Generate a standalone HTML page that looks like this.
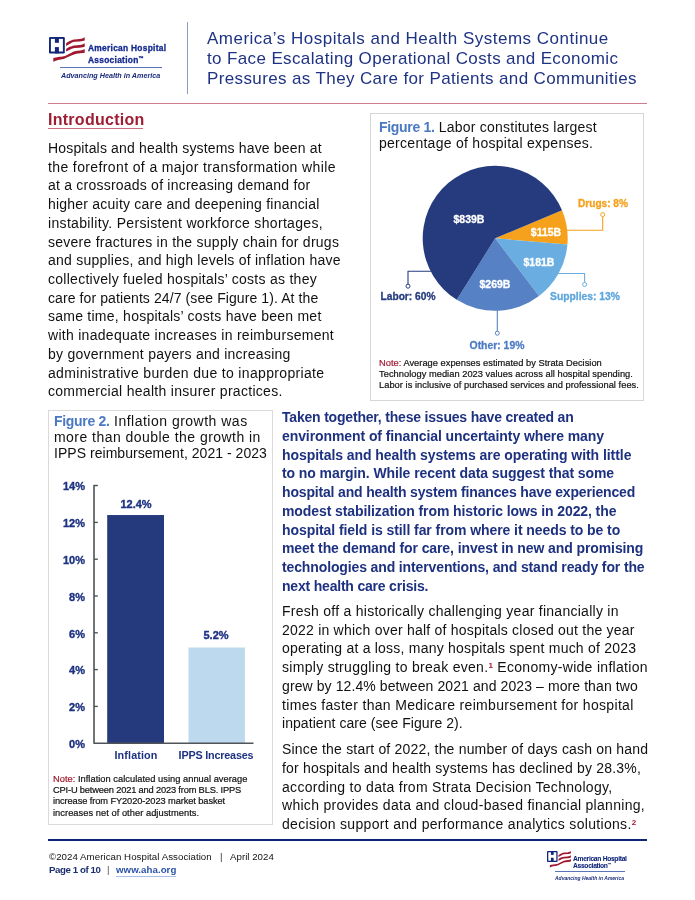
<!DOCTYPE html>
<html><head><meta charset="utf-8"><style>
html,body{margin:0;padding:0;background:#fff;}
body{width:695px;height:900px;position:relative;overflow:hidden;font-family:"Liberation Sans",Arial,sans-serif;}
.t{position:absolute;white-space:nowrap;will-change:transform;}
</style></head><body>
<svg style="position:absolute;left:49px;top:37px;overflow:visible" width="120" height="45" viewBox="0 0 120 45">
<rect x="0" y="0" width="15.8" height="16.4" rx="1.2" fill="#12267a"/>
<rect x="1.9" y="1.9" width="12" height="12.6" fill="#fff"/>
<rect x="5.9" y="0" width="4" height="5.8" fill="#12267a"/>
<rect x="5.9" y="10.1" width="4" height="6.3" fill="#12267a"/>
<path d="M17.1,6.2 C19,4.8 20.5,3.9 21.8,3.5 C23.5,2.8 24.5,2.5 25.6,2.4 L30.5,2.1 C32,1.9 33,1.6 33.8,1.3 L35.7,0.2 L35.7,3.5 L33.8,4 C32.5,4.3 31.5,4.5 30.5,4.6 L25.6,4.8 C24,5 23,5.5 21.8,6.2 L17.1,8.9 Z" fill="#a0182f"/>
<path d="M17.1,11.9 C19,10.6 20.5,9.9 21.8,9.5 C23.5,8.8 24.5,8.5 25.6,8.4 L30.5,8.1 C32,7.9 33,7.6 33.8,7.3 L35.7,6.2 L35.7,9.8 L33.8,10.3 C32.5,10.6 31.5,10.7 30.5,10.8 L25.6,11.1 C24,11.3 23,11.7 21.8,12.2 L17.1,14.4 Z" fill="#a0182f"/>
<path d="M4.3,21 L9.2,20.1 C11.5,19.8 13.2,19.6 14.7,19.3 C16.5,18.8 17.8,18 19,17.4 L22.9,15.5 C24.5,14.7 25.5,14.3 26.7,14.1 L31.1,13.6 C32.3,13.4 33,13.3 33.8,13 L35.7,12.1 L35.7,15.8 L33.8,16 L31.1,16.3 C29,16.5 27.8,16.6 26.7,16.9 C25,17.4 24,17.7 22.9,18.2 L19,20.1 C17.5,20.9 16,21.6 14.7,22.1 C12.5,22.6 11,22.7 9.2,22.9 C7.5,23.3 6,24 4.3,24.8 Z" fill="#a0182f"/>
</svg><div class="t " style="left:87.6px;top:43.84px;font-size:8.4px;line-height:9.5px;font-weight:bold;color:#142a8f;letter-spacing:0.28px;-webkit-text-stroke:0.3px #142a8f">American Hospital<br>Association<span style="font-size:5px;vertical-align:2.5px">™</span></div>
<div style="position:absolute;left:60px;top:67px;width:102px;height:1px;background:#5a74b8"></div>
<div class="t" style="left:60.5px;top:71.3px;font-size:7.2px;line-height:9px;font-style:italic;font-weight:bold;color:#1a2c7c;letter-spacing:0px">Advancing Health in America</div>
<div style="position:absolute;left:187px;top:22px;width:1.2px;height:72px;background:#8a99c5"></div>
<div class="t " style="left:206.5px;top:28.96px;font-size:17px;line-height:20.1px;color:#1f3383;letter-spacing:0.45px"><span style="letter-spacing:0.493px">America’s Hospitals and Health Systems Continue</span><br><span style="letter-spacing:0.371px">to Face Escalating Operational Costs and Economic</span><br><span style="letter-spacing:0.378px">Pressures as They Care for Patients and Communities</span></div>
<div style="position:absolute;left:48px;top:103px;width:599px;height:1.2px;background:#cf7d8c"></div>
<div class="t " style="left:48px;top:111.05px;font-size:16px;line-height:18px;color:#9d1d33;font-weight:bold;letter-spacing:0.27px">Introduction</div>
<div style="position:absolute;left:47.5px;top:128px;width:95.5px;height:1px;background:#c8707f"></div>
<div class="t " style="left:48px;top:138.59px;font-size:14px;line-height:18.72px;color:#111;letter-spacing:0.22px"><span style="letter-spacing:0.165px">Hospitals and health systems have been at</span><br><span style="letter-spacing:0.379px">the forefront of a major transformation while</span><br><span style="letter-spacing:0.220px">at a crossroads of increasing demand for</span><br><span style="letter-spacing:0.220px">higher acuity care and deepening financial</span><br><span style="letter-spacing:0.332px">instability. Persistent workforce shortages,</span><br><span style="letter-spacing:0.256px">severe fractures in the supply chain for drugs</span><br><span style="letter-spacing:0.233px">and supplies, and high levels of inflation have</span><br><span style="letter-spacing:0.271px">collectively fueled hospitals’ costs as they</span><br><span style="letter-spacing:0.093px">care for patients 24/7 (see Figure 1). At the</span><br><span style="letter-spacing:0.250px">same time, hospitals’ costs have been met</span><br><span style="letter-spacing:0.288px">with inadequate increases in reimbursement</span><br><span style="letter-spacing:0.261px">by government payers and increasing</span><br><span style="letter-spacing:0.337px">administrative burden due to inappropriate</span><br><span style="letter-spacing:0.294px">commercial health insurer practices.</span></div>
<div style="position:absolute;left:370px;top:113px;width:272px;height:285.5px;border:1px solid #d6d6d6"></div>
<div class="t " style="left:379.2px;top:119.00px;font-size:14px;line-height:16.1px;color:#111;letter-spacing:0.15px"><span style="letter-spacing:0.224px"><span style="color:#4a78c2;font-weight:bold;letter-spacing:-0.3px">Figure 1.</span> Labor constitutes largest</span><br><span style="letter-spacing:0.273px">percentage of hospital expenses.</span></div>
<svg style="position:absolute;left:0;top:0" width="695" height="900">
<path d="M495.20,238.30 L562.04,210.21 A72.5,72.5 0 0 1 567.42,244.62 Z" fill="#f5a11c"/>
<path d="M495.20,238.30 L567.42,244.62 A72.5,72.5 0 0 1 539.03,296.05 Z" fill="#6aaee1"/>
<path d="M495.20,238.30 L539.03,296.05 A72.5,72.5 0 0 1 456.78,299.78 Z" fill="#5681c4"/>
<path d="M495.20,238.30 L456.78,299.78 A72.5,72.5 0 1 1 562.04,210.21 Z" fill="#253b7e"/>
<path d="M567,230.2 H602.7 V216.6" fill="none" stroke="#f5a11c" stroke-width="1.1"/><circle cx="602.7" cy="214.6" r="2" fill="#fff" stroke="#f5a11c" stroke-width="1"/>
<path d="M558,273.5 H584.6 V282.5" fill="none" stroke="#6aaee1" stroke-width="1.1"/><circle cx="584.6" cy="284.5" r="2" fill="#fff" stroke="#6aaee1" stroke-width="1"/>
<path d="M431,271.3 H408 V284.2" fill="none" stroke="#253b7e" stroke-width="1.1"/><circle cx="408" cy="286.2" r="2" fill="#fff" stroke="#253b7e" stroke-width="1"/>
<path d="M497.3,310 V331.2" fill="none" stroke="#5681c4" stroke-width="1.1"/><circle cx="497.3" cy="333.2" r="2" fill="#fff" stroke="#5681c4" stroke-width="1"/>
</svg>
<div class="t" style="left:369.3px;width:200px;text-align:center;top:213.26px;font-size:10.5px;line-height:12.6px;color:#fff;font-weight:bold;-webkit-text-stroke:0.3px #fff">$839B</div>
<div class="t" style="left:446px;width:200px;text-align:center;top:226.26px;font-size:10.5px;line-height:12.6px;color:#fff;font-weight:bold;-webkit-text-stroke:0.3px #fff">$115B</div>
<div class="t" style="left:439px;width:200px;text-align:center;top:255.76px;font-size:10.5px;line-height:12.6px;color:#fff;font-weight:bold;-webkit-text-stroke:0.3px #fff">$181B</div>
<div class="t" style="left:395px;width:200px;text-align:center;top:277.76px;font-size:10.5px;line-height:12.6px;color:#fff;font-weight:bold;-webkit-text-stroke:0.3px #fff">$269B</div>
<div class="t" style="left:502.70000000000005px;width:200px;text-align:center;top:198.24px;font-size:10.1px;line-height:12.12px;color:#f5a11c;font-weight:bold;-webkit-text-stroke:0.3px #f5a11c">Drugs: 8%</div>
<div class="t" style="left:484.6px;width:200px;text-align:center;top:290.65px;font-size:10.3px;line-height:12.360000000000001px;color:#5da7dd;font-weight:bold;-webkit-text-stroke:0.3px #5da7dd">Supplies: 13%</div>
<div class="t" style="left:308.2px;width:200px;text-align:center;top:291.44px;font-size:10.2px;line-height:12.239999999999998px;color:#253b7e;font-weight:bold;-webkit-text-stroke:0.3px #253b7e">Labor: 60%</div>
<div class="t" style="left:397.2px;width:200px;text-align:center;top:340.35px;font-size:10.4px;line-height:12.48px;color:#4f7cc4;font-weight:bold;-webkit-text-stroke:0.3px #4f7cc4">Other: 19%</div>
<div class="t " style="left:379px;top:357.78px;font-size:9.3px;line-height:11.2px;color:#111;-webkit-text-stroke:0.2px #111"><span style="letter-spacing:0.014px"><span style="color:#a3192f;-webkit-text-stroke:0.2px #a3192f">Note:</span> Average expenses estimated by Strata Decision</span><br><span style="letter-spacing:0.029px">Technology median 2023 values across all hospital spending.</span><br><span style="letter-spacing:0.032px">Labor is inclusive of purchased services and professional fees.</span></div>
<div style="position:absolute;left:47.5px;top:409.5px;width:223.5px;height:413.5px;border:1px solid #dadada"></div>
<div class="t " style="left:53.7px;top:413.05px;font-size:14px;line-height:16px;color:#111;letter-spacing:0.2px"><span style="letter-spacing:0.493px"><span style="color:#4a78c2;font-weight:bold;letter-spacing:-0.3px">Figure 2.</span> Inflation growth was</span><br><span style="letter-spacing:0.462px">more than double the growth in</span><br><span style="letter-spacing:0.040px">IPPS reimbursement, 2021 - 2023</span></div>
<svg style="position:absolute;left:0;top:0" width="695" height="900">
<rect x="107.2" y="515.04" width="56.8" height="228.16" fill="#253a7c"/>
<rect x="188.5" y="647.52" width="56.4" height="95.68" fill="#bcd9ed"/>
<path d="M97.8,485.5 H94 V743.2 H253.5" fill="none" stroke="#505458" stroke-width="1.6" stroke-linejoin="round"/>
<path d="M94,706.40 H97.8" stroke="#505458" stroke-width="1.4"/>
<path d="M94,669.60 H97.8" stroke="#505458" stroke-width="1.4"/>
<path d="M94,632.80 H97.8" stroke="#505458" stroke-width="1.4"/>
<path d="M94,596.00 H97.8" stroke="#505458" stroke-width="1.4"/>
<path d="M94,559.20 H97.8" stroke="#505458" stroke-width="1.4"/>
<path d="M94,522.40 H97.8" stroke="#505458" stroke-width="1.4"/>
</svg>
<div class="t" style="left:30px;width:55px;text-align:right;top:737.99px;font-size:11px;line-height:13px;font-weight:bold;color:#1d3282;-webkit-text-stroke:0.35px #1d3282">0%</div>
<div class="t" style="left:30px;width:55px;text-align:right;top:701.19px;font-size:11px;line-height:13px;font-weight:bold;color:#1d3282;-webkit-text-stroke:0.35px #1d3282">2%</div>
<div class="t" style="left:30px;width:55px;text-align:right;top:664.39px;font-size:11px;line-height:13px;font-weight:bold;color:#1d3282;-webkit-text-stroke:0.35px #1d3282">4%</div>
<div class="t" style="left:30px;width:55px;text-align:right;top:627.59px;font-size:11px;line-height:13px;font-weight:bold;color:#1d3282;-webkit-text-stroke:0.35px #1d3282">6%</div>
<div class="t" style="left:30px;width:55px;text-align:right;top:590.79px;font-size:11px;line-height:13px;font-weight:bold;color:#1d3282;-webkit-text-stroke:0.35px #1d3282">8%</div>
<div class="t" style="left:30px;width:55px;text-align:right;top:553.99px;font-size:11px;line-height:13px;font-weight:bold;color:#1d3282;-webkit-text-stroke:0.35px #1d3282">10%</div>
<div class="t" style="left:30px;width:55px;text-align:right;top:517.19px;font-size:11px;line-height:13px;font-weight:bold;color:#1d3282;-webkit-text-stroke:0.35px #1d3282">12%</div>
<div class="t" style="left:30px;width:55px;text-align:right;top:480.39px;font-size:11px;line-height:13px;font-weight:bold;color:#1d3282;-webkit-text-stroke:0.35px #1d3282">14%</div>
<div class="t" style="left:35.599999999999994px;width:200px;text-align:center;top:497.59px;font-size:11px;line-height:13.2px;color:#1d3282;font-weight:bold;-webkit-text-stroke:0.35px #1d3282">12.4%</div>
<div class="t" style="left:116.30000000000001px;width:200px;text-align:center;top:629.49px;font-size:11px;line-height:13.2px;color:#1d3282;font-weight:bold;-webkit-text-stroke:0.35px #1d3282">5.2%</div>
<div class="t" style="left:36.19999999999999px;width:200px;text-align:center;top:748.68px;font-size:10.8px;line-height:12.96px;color:#1d3282;font-weight:bold;letter-spacing:0.12px">Inflation</div>
<div class="t" style="left:116.19999999999999px;width:200px;text-align:center;top:748.68px;font-size:10.8px;line-height:12.96px;color:#1d3282;font-weight:bold;letter-spacing:-0.19px">IPPS Increases</div>
<div class="t " style="left:52.7px;top:773.58px;font-size:9.3px;line-height:11.2px;color:#111;-webkit-text-stroke:0.2px #111"><span style="letter-spacing:0.024px"><span style="color:#a3192f;-webkit-text-stroke:0.2px #a3192f">Note:</span> Inflation calculated using annual average</span><br><span style="letter-spacing:-0.176px">CPI-U between 2021 and 2023 from BLS. IPPS</span><br><span style="letter-spacing:-0.108px">increase from FY2020-2023 market basket</span><br><span style="letter-spacing:0.041px">increases net of other adjustments.</span></div>
<div class="t " style="left:282px;top:407.66px;font-size:14px;line-height:18.77px;color:#1d3180;font-weight:bold;letter-spacing:-0.12px"><span style="letter-spacing:-0.194px">Taken together, these issues have created an</span><br><span style="letter-spacing:-0.085px">environment of financial uncertainty where many</span><br><span style="letter-spacing:-0.056px">hospitals and health systems are operating with little</span><br><span style="letter-spacing:-0.082px">to no margin. While recent data suggest that some</span><br><span style="letter-spacing:-0.167px">hospital and health system finances have experienced</span><br><span style="letter-spacing:-0.093px">modest stabilization from historic lows in 2022, the</span><br><span style="letter-spacing:-0.073px">hospital field is still far from where it needs to be to</span><br><span style="letter-spacing:-0.097px">meet the demand for care, invest in new and promising</span><br><span style="letter-spacing:-0.127px">technologies and interventions, and stand ready for the</span><br><span style="letter-spacing:-0.198px">next health care crisis.</span></div>
<div class="t " style="left:282px;top:602.20px;font-size:14px;line-height:18.7px;color:#111;letter-spacing:0.21px"><span style="letter-spacing:0.265px">Fresh off a historically challenging year financially in</span><br><span style="letter-spacing:0.225px">2022 in which over half of hospitals closed out the year</span><br><span style="letter-spacing:0.218px">operating at a loss, many hospitals spent much of 2023</span><br><span style="letter-spacing:0.297px">simply struggling to break even.<sup style="font-size:8px;font-weight:bold;color:#a3192f;vertical-align:4px;line-height:0">1</sup> Economy-wide inflation</span><br><span style="letter-spacing:0.094px">grew by 12.4% between 2021 and 2023 – more than two</span><br><span style="letter-spacing:0.322px">times faster than Medicare reimbursement for hospital</span><br><span style="letter-spacing:0.058px">inpatient care (see Figure 2).</span></div>
<div class="t " style="left:282px;top:739.67px;font-size:14px;line-height:18.75px;color:#111;letter-spacing:0.21px"><span style="letter-spacing:0.188px">Since the start of 2022, the number of days cash on hand</span><br><span style="letter-spacing:0.188px">for hospitals and health systems has declined by 28.3%,</span><br><span style="letter-spacing:0.300px">according to data from Strata Decision Technology,</span><br><span style="letter-spacing:0.288px">which provides data and cloud-based financial planning,</span><br><span style="letter-spacing:0.312px">decision support and performance analytics solutions.<sup style="font-size:8px;font-weight:bold;color:#a3192f;vertical-align:4px;line-height:0">2</sup></span></div>
<div style="position:absolute;left:48px;top:838.6px;width:599.3px;height:2.2px;background:#0c2575"></div>
<div class="t " style="left:48.5px;top:851.44px;font-size:9.7px;line-height:12px;color:#111"><span style="letter-spacing:0.044px">©2024 American Hospital Association</span></div>
<div class="t " style="left:219.7px;top:851.44px;font-size:9.7px;line-height:12px;color:#333">|</div>
<div class="t " style="left:229.8px;top:851.44px;font-size:9.7px;line-height:12px;color:#111"><span style="letter-spacing:0.022px">April 2024</span></div>
<div class="t " style="left:48.7px;top:863.84px;font-size:9.7px;line-height:12px;font-weight:bold;color:#1c2f6e"><span style="letter-spacing:-0.418px">Page 1 of 10</span></div>
<div class="t " style="left:106.6px;top:863.84px;font-size:9.7px;line-height:12px;color:#555">|</div>
<div class="t " style="left:115.8px;top:863.84px;font-size:9.7px;line-height:12px;font-weight:bold;color:#2a52a5"><span style="letter-spacing:0.040px">www.aha.org</span></div>
<div style="position:absolute;left:116px;top:875.6px;width:59.5px;height:1px;background:#a9bfe6"></div>
<svg style="position:absolute;left:547.2px;top:851.1px;overflow:visible" width="80.4" height="30.150000000000002" viewBox="0 0 120 45">
<rect x="0" y="0" width="15.8" height="16.4" rx="1.2" fill="#12267a"/>
<rect x="1.9" y="1.9" width="12" height="12.6" fill="#fff"/>
<rect x="5.9" y="0" width="4" height="5.8" fill="#12267a"/>
<rect x="5.9" y="10.1" width="4" height="6.3" fill="#12267a"/>
<path d="M17.1,6.2 C19,4.8 20.5,3.9 21.8,3.5 C23.5,2.8 24.5,2.5 25.6,2.4 L30.5,2.1 C32,1.9 33,1.6 33.8,1.3 L35.7,0.2 L35.7,3.5 L33.8,4 C32.5,4.3 31.5,4.5 30.5,4.6 L25.6,4.8 C24,5 23,5.5 21.8,6.2 L17.1,8.9 Z" fill="#a0182f"/>
<path d="M17.1,11.9 C19,10.6 20.5,9.9 21.8,9.5 C23.5,8.8 24.5,8.5 25.6,8.4 L30.5,8.1 C32,7.9 33,7.6 33.8,7.3 L35.7,6.2 L35.7,9.8 L33.8,10.3 C32.5,10.6 31.5,10.7 30.5,10.8 L25.6,11.1 C24,11.3 23,11.7 21.8,12.2 L17.1,14.4 Z" fill="#a0182f"/>
<path d="M4.3,21 L9.2,20.1 C11.5,19.8 13.2,19.6 14.7,19.3 C16.5,18.8 17.8,18 19,17.4 L22.9,15.5 C24.5,14.7 25.5,14.3 26.7,14.1 L31.1,13.6 C32.3,13.4 33,13.3 33.8,13 L35.7,12.1 L35.7,15.8 L33.8,16 L31.1,16.3 C29,16.5 27.8,16.6 26.7,16.9 C25,17.4 24,17.7 22.9,18.2 L19,20.1 C17.5,20.9 16,21.6 14.7,22.1 C12.5,22.6 11,22.7 9.2,22.9 C7.5,23.3 6,24 4.3,24.8 Z" fill="#a0182f"/>
</svg><div class="t " style="left:573.3px;top:856.28px;font-size:6.7px;line-height:6.0px;font-weight:bold;color:#12267a;letter-spacing:-0.3px;-webkit-text-stroke:0.08px #12267a">American Hospital<br>Association<span style="font-size:4px;vertical-align:1.7px">™</span></div>
<div style="position:absolute;left:554.6px;top:871px;width:70.2px;height:0.8px;background:#5a74b8"></div>
<div class="t " style="left:554.6px;top:874.57px;font-size:5px;line-height:6px;font-style:italic;font-weight:bold;color:#1a2c7c">Advancing Health in America</div>

</body></html>
